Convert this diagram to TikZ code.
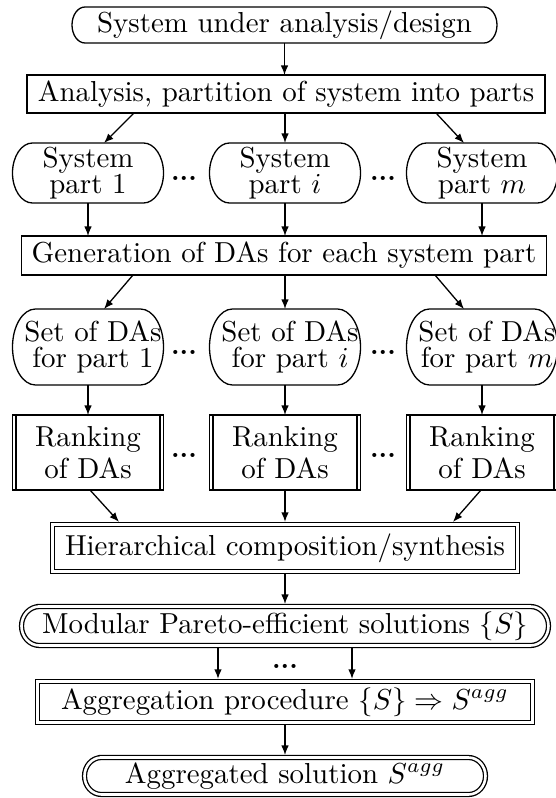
\documentclass[tikz,border=0pt]{standalone}
\usetikzlibrary{arrows.meta,calc}
\newlength\pxu
\setlength\pxu{0.346pt}
% capsule outline: #1 options, #2 node, #3 bulge, #4 half height, #5 inset
\newcommand\capsule[5][]{%
  \draw[#1] ([xshift=#3\pxu+#5\pxu, yshift=-#5\pxu]#2.north west)
    -- ([xshift=-#3\pxu-#5\pxu, yshift=-#5\pxu]#2.north east)
    arc[start angle=90, end angle=-90, x radius=#3\pxu, y radius=#4\pxu]
    -- ([xshift=#3\pxu+#5\pxu, yshift=#5\pxu]#2.south west)
    arc[start angle=270, end angle=90, x radius=#3\pxu, y radius=#4\pxu]
    -- cycle;}
\newcommand\rankbars[1]{%
  \draw ([xshift=3.5\pxu]#1.north west) -- ([xshift=3.5\pxu]#1.south west);
  \draw ([xshift=-3.5\pxu]#1.north east) -- ([xshift=-3.5\pxu]#1.south east);}
\newcommand\sh{\hspace*{10\pxu}}
\tikzset{
  base/.style={inner sep=0pt, outer sep=0pt, align=center, font=\normalsize},
  plainbox/.style={base, draw, rectangle},
  dblbox/.style={base, draw, rectangle, double, double distance=0.9pt, outer sep=0.9pt},
  capnode/.style={base, rectangle},
  arr/.style={-{Latex[length=3.3pt, width=2.6pt]}},
  dotsnode/.style={inner sep=0pt, outer sep=0pt, font=\small\bfseries},
  dbl/.style={double, double distance=0.9pt}
}
\begin{document}
\begin{tikzpicture}[x=\pxu, y=-\pxu, line width=0.45pt]
\useasboundingbox (0,0) rectangle (555,798);

% nodes
\node[capnode, minimum width=425\pxu, minimum height=36\pxu] (top) at (284.5,25) {System under analysis/design};
\capsule{top}{13}{18}{0}

\node[plainbox, minimum width=518\pxu, minimum height=38\pxu] (box2) at (286,94) {Analysis, partition of system into parts};

\node[capnode, minimum width=151\pxu, minimum height=60\pxu] (p1) at (88,173) {System\\[-3pt]part 1};
\node[capnode, minimum width=151\pxu, minimum height=60\pxu] (pi) at (285,173) {System\\[-3pt]part $i$};
\node[capnode, minimum width=151\pxu, minimum height=60\pxu] (pm) at (482,173) {System\\[-3pt]part $m$};
\capsule{p1}{20}{30}{0}
\capsule{pi}{20}{30}{0}
\capsule{pm}{20}{30}{0}

\node[plainbox, minimum width=525\pxu, minimum height=39\pxu] (gen) at (284,255.5) {Generation of DAs for each system part};

\node[capnode, minimum width=151\pxu, minimum height=76\pxu] (s1) at (88,347) {\sh Set of DAs\\[-3pt]\sh for part 1};
\node[capnode, minimum width=151\pxu, minimum height=76\pxu] (si) at (285,347) {\sh Set of DAs\\[-3pt]\sh for part $i$};
\node[capnode, minimum width=151\pxu, minimum height=76\pxu] (sm) at (482,347) {\sh Set of DAs\\[-3pt]\sh for part $m$};
\capsule{s1}{23}{38}{0}
\capsule{si}{23}{38}{0}
\capsule{sm}{23}{38}{0}

\node[plainbox, minimum width=151\pxu, minimum height=75\pxu] (r1) at (88,452.5) {Ranking\\[-1pt]of DAs};
\node[plainbox, minimum width=151\pxu, minimum height=75\pxu] (ri) at (285,452.5) {Ranking\\[-1pt]of DAs};
\node[plainbox, minimum width=151\pxu, minimum height=75\pxu] (rm) at (482,452.5) {Ranking\\[-1pt]of DAs};
\rankbars{r1}
\rankbars{ri}
\rankbars{rm}

\node[dblbox, minimum width=465\pxu, minimum height=47\pxu] (hier) at (285,548) {Hierarchical composition/synthesis};

\node[capnode, minimum width=532\pxu, minimum height=44\pxu] (mod) at (285,626) {Modular Pareto-efficient solutions $\{S\}$};
\capsule[dbl]{mod}{18}{19.5}{2.5}

\node[dblbox, minimum width=495\pxu, minimum height=41\pxu] (agg) at (285,702) {Aggregation procedure $\{S\}\Rightarrow S^{agg}$};

\node[capnode, minimum width=406\pxu, minimum height=42\pxu] (res) at (285,776) {Aggregated solution $S^{agg}$};
\capsule[dbl]{res}{17}{18.5}{2.5}

% dots
\node[dotsnode] (d1) at (184,178) {...};
\node[dotsnode] (d2) at (383,178) {...};
\node[dotsnode] (d3) at (184,352) {...};
\node[dotsnode] (d4) at (383,352) {...};
\node[dotsnode] (d5) at (184,455) {...};
\node[dotsnode] (d6) at (383,455) {...};
\node[dotsnode] (d7) at (285,666) {...};

% connectors
\draw[arr] (top.south) -- (top.south |- box2.north);
\draw[arr] ([xshift=-152\pxu]box2.south) -- ([xshift=16\pxu]p1.north);
\draw[arr] (pi.north |- box2.south) -- (pi.north);
\draw[arr] ([xshift=150\pxu]box2.south) -- ([xshift=-18\pxu]pm.north);

\draw[arr] (p1.south) -- (p1.south |- gen.north);
\draw[arr] (pi.south) -- (pi.south |- gen.north);
\draw[arr] (pm.south) -- (pm.south |- gen.north);

\draw[arr] ([xshift=-151\pxu]gen.south) -- ([xshift=16\pxu]s1.north);
\draw[arr] (si.north |- gen.south) -- (si.north);
\draw[arr] ([xshift=151\pxu]gen.south) -- ([xshift=-18\pxu]sm.north);

\draw[arr] (s1.south) -- (r1.north);
\draw[arr] (si.south) -- (ri.north);
\draw[arr] (sm.south) -- (rm.north);

\draw[arr] ([xshift=2\pxu]r1.south) -- ([xshift=-166\pxu]hier.north);
\draw[arr] (ri.south) -- (ri.south |- hier.north);
\draw[arr] ([xshift=-1\pxu]rm.south) -- ([xshift=168\pxu]hier.north);

\draw[arr] (hier.south) -- (mod.north);
\draw[arr] ([xshift=-67\pxu]mod.south) -- ([xshift=-67\pxu]agg.north);
\draw[arr] ([xshift=67\pxu]mod.south) -- ([xshift=67\pxu]agg.north);
\draw[arr] (agg.south) -- (res.north);
\end{tikzpicture}
\end{document}
